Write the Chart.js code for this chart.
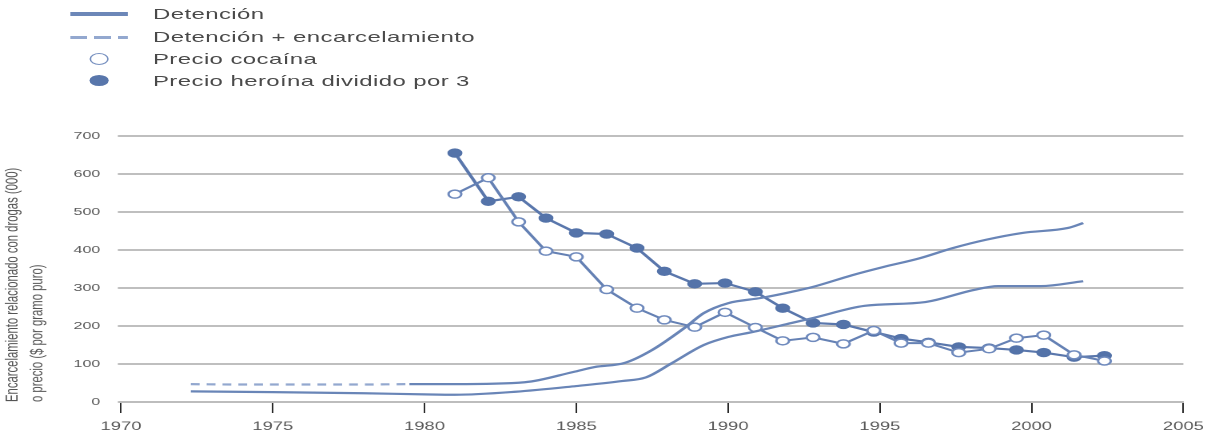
<!DOCTYPE html>
<html>
<head>
<meta charset="utf-8">
<script src="https://cdn.jsdelivr.net/npm/chart.js@4.4.1/dist/chart.umd.min.js"></script>
<style>
  html, body { margin: 0; padding: 0; background: #ffffff; overflow: hidden; }
  #wrap { position: absolute; left: 0; top: 0; width: 760px; height: 443px;
          transform: scaleX(1.59868); transform-origin: 0 0; }
  #c { position: absolute; left: 0; top: 0; }
  .lg-row { position: absolute; left: 0; height: 20px; width: 400px; }
  .lg-text { position: absolute; left: 95.7px; top: 0; line-height: 20px;
             font-family: "Liberation Sans", Arial, sans-serif; font-size: 15px; letter-spacing: 0.25px;
             color: #4a4a4a; white-space: nowrap; }
  .sym-solid { position: absolute; left: 43.8px; width: 36.2px; top: 8.2px; height: 3.6px; background: #6c87b8; }
  .sym-dash { position: absolute; left: 43.8px; width: 36.2px; top: 8.5px; height: 3px;
              background: repeating-linear-gradient(to right, #93a8cf 0 10.6px, transparent 10.6px 15px); }
  .sym-open { position: absolute; left: 56px; top: 3.5px; width: 10px; height: 10px; border-radius: 50%;
              border: 1.6px solid #7891c0; background: #fff; }
  .sym-fill { position: absolute; left: 56px; top: 4px; width: 12px; height: 11px; border-radius: 50%;
              background: #5876ab; }
</style>
</head>
<body>
<div id="wrap">
  <canvas id="c" width="760" height="443"></canvas>
  <div id="legend"></div>
</div>
<script>
// ---- data ----
const legendLabels = ['Detención', 'Detención + encarcelamiento', 'Precio cocaína', 'Precio heroína dividido por 3'];
const yAxisTitle = ['Encarcelamiento relacionado con drogas (000)', 'o precio ($ por gramo puro)'];
const xTickValues = [1970, 1975, 1980, 1985, 1990, 1995, 2000, 2005];
const yTickValues = [0, 100, 200, 300, 400, 500, 600, 700];

// upper line (dashed before 1980, solid afterwards)
const detEncYears  = [1972.3, 1974, 1976, 1978, 1979.5, 1981, 1983.3, 1984.9, 1985.6, 1986.6, 1987.5, 1988.6, 1989.2, 1990, 1991.1, 1992.1, 1992.8, 1994.1, 1995.1, 1996.3, 1997.4, 1998.5, 1999.7, 2001.2, 2001.7];
const detEncValues = [47, 46, 46, 46, 47, 47, 52, 79, 92, 103, 137, 197, 234, 260, 274, 290, 303, 334, 355, 378, 405, 427, 445, 458, 471];

// lower line
const detYears  = [1972.3, 1975, 1978, 1980, 1981, 1983, 1985, 1986.5, 1987.3, 1988.1, 1989.2, 1990, 1990.8, 1992.1, 1992.8, 1994.5, 1996.5, 1998.1, 1998.9, 2000.3, 2001.7];
const detValues = [28, 26, 23, 20, 19, 27, 42, 55, 65, 100, 150, 171, 184, 208, 221, 253, 263, 295, 305, 305, 318];

// price series (point positions)
const priceYears   = [1981.0, 1982.1, 1983.1, 1984.0, 1985.0, 1986.0, 1987.0, 1987.9, 1988.9, 1989.9, 1990.9, 1991.8, 1992.8, 1993.8, 1994.8, 1995.7, 1996.6, 1997.6, 1998.6, 1999.5, 2000.4, 2001.4, 2002.4];
const cocaineValues = [547, 590, 474, 397, 382, 296, 247, 216, 197, 236, 196, 161, 170, 153, 188, 155, 155, 130, 140, 168, 176, 124, 108];
const heroinValues  = [655, 528, 540, 484, 445, 442, 405, 344, 311, 313, 290, 247, 208, 204, 184, 167, 157, 145, 142, 137, 130, 118, 122];

// ---- legend (HTML) ----
const symClasses = ['sym-solid', 'sym-dash', 'sym-open', 'sym-fill'];
const rowTops = [4, 27, 49, 71];
const legendEl = document.getElementById('legend');
legendLabels.forEach((txt, i) => {
  const row = document.createElement('div');
  row.className = 'lg-row';
  row.style.top = rowTops[i] + 'px';
  const s = document.createElement('div'); s.className = symClasses[i];
  const t = document.createElement('div'); t.className = 'lg-text'; t.textContent = txt;
  row.appendChild(s); row.appendChild(t);
  legendEl.appendChild(row);
});

// ---- chart ----
const pts = (xs, ys) => xs.map((x, i) => ({ x: x, y: ys[i] }));
Chart.defaults.font.family = '"Liberation Sans", Arial, sans-serif';

new Chart(document.getElementById('c'), {
  type: 'line',
  data: {
    datasets: [
      {
        label: legendLabels[1],
        data: pts(detEncYears, detEncValues),
        borderColor: '#6985b7',
        borderWidth: 2.2,
        pointRadius: 0,
        cubicInterpolationMode: 'monotone',
        segment: {
          borderDash: ctx => ctx.p1.parsed.x <= 1979.6 ? [5.5, 4.4] : undefined,
          borderColor: ctx => ctx.p1.parsed.x <= 1979.6 ? '#93a8cf' : undefined
        }
      },
      {
        label: legendLabels[0],
        data: pts(detYears, detValues),
        borderColor: '#6985b7',
        borderWidth: 2.2,
        pointRadius: 0,
        cubicInterpolationMode: 'monotone'
      },
      {
        label: legendLabels[2],
        data: pts(priceYears, cocaineValues),
        borderColor: '#6581b4',
        borderWidth: 2,
        tension: 0,
        pointRadius: 4,
        pointBorderWidth: 1.5,
        pointBackgroundColor: '#ffffff',
        pointBorderColor: '#6f8abd'
      },
      {
        label: legendLabels[3],
        data: pts(priceYears, heroinValues),
        borderColor: '#5a77ac',
        borderWidth: 2.2,
        tension: 0,
        pointRadius: 4.2,
        pointBorderWidth: 1,
        pointBackgroundColor: '#5473a9',
        pointBorderColor: '#5473a9'
      }
    ]
  },
  options: {
    responsive: false,
    animation: false,
    devicePixelRatio: 2,
    layout: { padding: { top: 136, right: 13.1, bottom: 0, left: 0 } },
    plugins: { legend: { display: false }, tooltip: { enabled: false } },
    scales: {
      x: {
        type: 'linear',
        min: 1970, max: 2005,
        afterBuildTicks: s => { s.ticks = xTickValues.map(v => ({ value: v })); },
        afterFit: a => { a.height = 41; },
        border: { display: true, color: '#bdbdbd', width: 2 },
        grid: { drawOnChartArea: false, drawTicks: true, tickLength: 11, tickColor: '#2a2a2a', tickWidth: 1 },
        ticks: { color: '#5a5a5a', font: { size: 11.5 }, padding: 7, maxRotation: 0, autoSkip: false,
                 callback: v => String(v) }
      },
      y: {
        min: 0, max: 700,
        afterBuildTicks: s => { s.ticks = yTickValues.map(v => ({ value: v })); },
        afterFit: a => { a.width = 75.7; },
        border: { display: false },
        grid: { color: '#bfbfbf', lineWidth: 2, drawTicks: true, tickLength: 2 },
        ticks: { color: '#5a5a5a', font: { size: 10 }, padding: 11 },
        title: {
          display: true,
          text: yAxisTitle,
          align: 'start',
          color: '#555555',
          font: { size: 11.3, lineHeight: 1.38 },
          padding: 0
        }
      }
    }
  }
});
</script>
</body>
</html>
